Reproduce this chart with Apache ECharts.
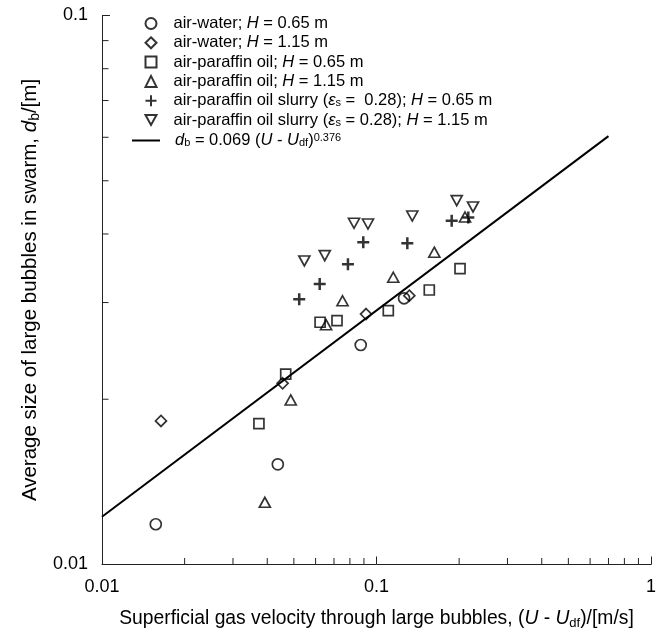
<!DOCTYPE html>
<html><head><meta charset="utf-8">
<script src="https://cdn.jsdelivr.net/npm/echarts@6/dist/echarts.min.js"></script>
<style>html,body{margin:0;padding:0;background:#fff}#c{width:664px;height:635px}</style>
</head><body><div id="c"></div>
<script>
// ---- data (U - Udf [m/s], db [m]) ----
const airWater065 = [[0.0157,0.01184],[0.0437,0.01522],[0.0876,0.02511],[0.126,0.03054]];
const airWater115 = [[0.0164,0.01826],[0.0455,0.02138],[0.0916,0.02859],[0.1317,0.03088]];
const paraffin065 = [[0.0373,0.01805],[0.0467,0.02223],[0.0623,0.02762],[0.0718,0.0278],[0.1104,0.029],[0.1557,0.03162],[0.2015,0.03458]];
const paraffin115 = [[0.0392,0.01298],[0.0487,0.01994],[0.0655,0.02734],[0.0752,0.03023],[0.1151,0.03336],[0.1624,0.03705],[0.2101,0.04295]];
const slurry065 = [[0.0523,0.03041],[0.0621,0.03244],[0.0787,0.03524],[0.0895,0.03863],[0.1295,0.03847],[0.1879,0.04229],[0.216,0.04286]];
const slurry115 = [[0.0546,0.03572],[0.0648,0.03652],[0.0828,0.04183],[0.0931,0.04171],[0.135,0.04313],[0.196,0.046],[0.2247,0.0448]];
const fitLine = [[0.01,0.01222],[0.7,0.0603]];
const xMinorTicks = [0.02,0.03,0.04,0.05,0.06,0.07,0.08,0.09,0.2,0.3,0.4,0.5,0.6,0.7,0.8,0.9];
const yMinorTicks = [0.02,0.03,0.04,0.05,0.06,0.07,0.08,0.09];
const xRange = [0.01, 1];
const yRange = [0.01, 0.1];

const names = ['aw065','aw115','po065','po115','sl065','sl115','fit'];
const legendText = {
  aw065: '{pad|}{n|air-water; }{i|H}{n| = 0.65 m}',
  aw115: '{pad|}{n|air-water; }{i|H}{n| = 1.15 m}',
  po065: '{pad|}{n|air-paraffin oil; }{i|H}{n| = 0.65 m}',
  po115: '{pad|}{n|air-paraffin oil; }{i|H}{n| = 1.15 m}',
  sl065: '{pad|}{n|air-paraffin oil slurry (}{i|\u03b5}{sub|s}{n| =  0.28); }{i|H}{n| = 0.65 m}',
  sl115: '{pad|}{n|air-paraffin oil slurry (}{i|\u03b5}{sub|s}{n| = 0.28); }{i|H}{n| = 1.15 m}',
  fit: '{pad|}{i|d}{sub|b}{n| = 0.069 (}{i|U}{n| - }{i|U}{sub|df}{n|)}{sup|0.376}'
};

const FF = 'Liberation Sans, Arial, Helvetica, sans-serif';
function richSet(fs, lh, padW) {
  return {
    n: {fontFamily: FF, fontSize: fs, color: '#000', lineHeight: lh},
    i: {fontFamily: FF, fontSize: fs, color: '#000', fontStyle: 'italic', lineHeight: lh},
    sub: {fontFamily: FF, fontSize: Math.round(fs*0.66), color: '#000', lineHeight: 8, verticalAlign: 'bottom'},
    sup: {fontFamily: FF, fontSize: Math.round(fs*0.66), color: '#000', lineHeight: 8, verticalAlign: 'top'},
    pad: {width: padW || 0, lineHeight: lh}
  };
}

const mk = {color: 'rgba(0,0,0,0)', borderColor: '#000', borderWidth: 1.7};
function scatter(name, data, symbol, size, extra) {
  return {type: 'scatter', name, data, symbol, symbolSize: size,
    itemStyle: Object.assign({}, mk, extra || {}), z: 3};
}

const chart = echarts.init(document.getElementById('c'), null, {renderer: 'canvas'});
const tickColor = '#222';
chart.setOption({
  animation: false,
  backgroundColor: '#fff',
  grid: {left: 102, right: 13, top: 15.5, bottom: 70.5, containLabel: false, outerBoundsMode: 'none'},
  xAxis: {
    type: 'log', logBase: 10, min: xRange[0], max: xRange[1],
    axisLine: {lineStyle: {color: tickColor, width: 1}},
    axisTick: {inside: true, length: 8, lineStyle: {color: tickColor, width: 1}},
    axisLabel: {fontFamily: FF, fontSize: 18, color: '#000', margin: 14},
    splitLine: {show: false},
    name: '{n|Superficial gas velocity through large bubbles, (}{i|U}{n| - }{i|U}{sub|df}{n|)/[m/s]}',
    nameLocation: 'middle', nameGap: 43,
    nameTextStyle: {rich: richSet(19.3, 22)}
  },
  yAxis: {
    type: 'log', logBase: 10, min: yRange[0], max: yRange[1],
    axisLine: {lineStyle: {color: tickColor, width: 1}},
    axisTick: {inside: true, length: 8, lineStyle: {color: tickColor, width: 1}},
    axisLabel: {fontFamily: FF, fontSize: 18, color: '#000', margin: 14},
    splitLine: {show: false},
    name: '{n|Average size of large bubbles in swarm, }{i|d}{sub|b}{n|/[m]}',
    nameLocation: 'middle', nameGap: 57, nameRotate: 90,
    nameTextStyle: {rich: richSet(20.5, 23)}
  },
  legend: [{
    orient: 'vertical', left: 144.5, top: 15, itemWidth: 11, itemHeight: 11, itemGap: 2.3, padding: 0,
    selectedMode: false, data: names.slice(0, 6),
    formatter: n => legendText[n],
    textStyle: {rich: richSet(16.5, 16, 12)}
  }, {
    orient: 'vertical', left: 132, top: 132, itemWidth: 28, itemHeight: 2, padding: 0,
    selectedMode: false, data: [{name: 'fit', icon: 'rect', itemStyle: {color: '#000', borderWidth: 0}}],
    formatter: n => legendText[n],
    textStyle: {rich: richSet(16.5, 16, 10)}
  }],
  series: [
    scatter('aw065', airWater065, 'circle', 11),
    scatter('aw115', airWater115, 'diamond', 11),
    scatter('po065', paraffin065, 'rect', 10),
    scatter('po115', paraffin115, 'triangle', [11, 10]),
    scatter('sl065', slurry065, 'path://M5,0L5,10M0,5L10,5', 12, {borderWidth: 2.5}),
    scatter('sl115', slurry115, 'path://M0,0L10,0L5,9Z', [11, 10]),
    {type: 'line', name: 'fit', data: fitLine, symbol: 'none', showSymbol: false,
      lineStyle: {color: '#000', width: 2}, itemStyle: {color: '#000'}, z: 2},
    {type: 'custom', silent: true, z: 4,
      data: xMinorTicks.map(v => [v, yRange[0]]),
      renderItem: (p, api) => {
        const c = api.coord([api.value(0), api.value(1)]);
        return {type: 'line', shape: {x1: c[0], y1: c[1], x2: c[0], y2: c[1] - 6.5},
          style: {stroke: tickColor, lineWidth: 1}};
      }},
    {type: 'custom', silent: true, z: 4,
      data: yMinorTicks.map(v => [xRange[0], v]),
      renderItem: (p, api) => {
        const c = api.coord([api.value(0), api.value(1)]);
        return {type: 'line', shape: {x1: c[0], y1: c[1], x2: c[0] + 6.5, y2: c[1]},
          style: {stroke: tickColor, lineWidth: 1}};
      }}
  ]
});
</script>
</body></html>
